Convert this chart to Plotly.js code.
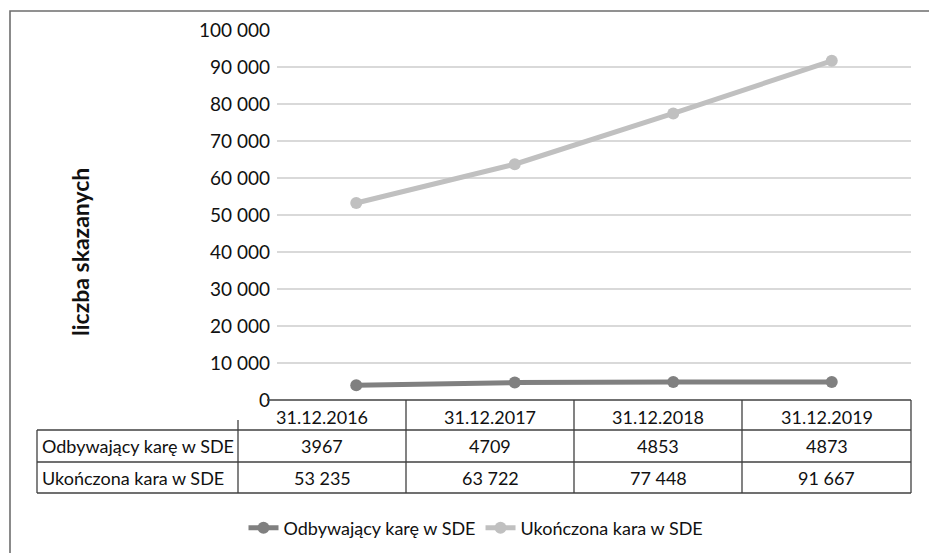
<!DOCTYPE html>
<html>
<head>
<meta charset="utf-8">
<script src="https://cdn.plot.ly/plotly-3.0.1.min.js"></script>
<style>html,body{margin:0;padding:0;background:#fff;}#chart{width:929px;height:553px;}</style>
</head>
<body>
<div id="chart"></div>
<script>
// ---- data ----
const categories = ["31.12.2016", "31.12.2017", "31.12.2018", "31.12.2019"];
const seriesNames = ["Odbywający karę w SDE", "Ukończona kara w SDE"];
const odbywajacy = [3967, 4709, 4853, 4873];
const ukonczona = [53235, 63722, 77448, 91667];
const yTickValues = [0, 10000, 20000, 30000, 40000, 50000, 60000, 70000, 80000, 90000, 100000];
const yTitle = "liczba skazanych";

// ---- layout helpers (pixel geometry) ----
const W = 929, H = 553;
const px = x => x / W;
const py = y => 1 - y / H;
const FONT = "Lato, 'Open Sans', sans-serif";

function fmt(v) {
  if (v < 10000) return String(v);
  return String(v).replace(/\B(?=(\d{3})+(?!\d))/g, " ");
}

const plotLeft = 277, plotRight = 911, plotTop = 30, plotBottom = 400;
const tableLeft = 37, labelRight = 238, tableRight = 911;
const colEdges = [238, 406, 574, 742, 911];
const rowEdges = [400, 430, 462, 493];
const lineCol = "#404040";

const traces = [
  {x: categories, y: odbywajacy, name: seriesNames[0], type: "scatter", mode: "lines+markers",
   line: {color: "#808080", width: 5}, marker: {color: "#808080", size: 12}},
  {x: categories, y: ukonczona, name: seriesNames[1], type: "scatter", mode: "lines+markers",
   line: {color: "#c0c0c0", width: 5}, marker: {color: "#c0c0c0", size: 12}}
];

const shapes = [];
// outer border (extends beyond the picture on right/bottom)
shapes.push({type: "rect", xref: "paper", yref: "paper", x0: px(10), x1: px(960), y0: py(11), y1: py(600),
  line: {color: "#6e6e6e", width: 1.6}});
// axis line / header top
shapes.push({type: "line", xref: "paper", yref: "paper", x0: px(267), x1: px(tableRight), y0: py(rowEdges[0]), y1: py(rowEdges[0]), line: {color: lineCol, width: 1.3}});
// row lines
for (let r = 1; r < rowEdges.length; r++) {
  shapes.push({type: "line", xref: "paper", yref: "paper", x0: px(tableLeft), x1: px(tableRight), y0: py(rowEdges[r]), y1: py(rowEdges[r]), line: {color: lineCol, width: 1.3}});
}
// table left border (label column)
shapes.push({type: "line", xref: "paper", yref: "paper", x0: px(tableLeft), x1: px(tableLeft), y0: py(rowEdges[1]), y1: py(rowEdges[3]), line: {color: lineCol, width: 1.3}});
// label/first column divider
shapes.push({type: "line", xref: "paper", yref: "paper", x0: px(labelRight), x1: px(labelRight), y0: py(420), y1: py(rowEdges[3]), line: {color: lineCol, width: 1.3}});
// column dividers
for (let c = 1; c < colEdges.length; c++) {
  shapes.push({type: "line", xref: "paper", yref: "paper", x0: px(colEdges[c]), x1: px(colEdges[c]), y0: py(rowEdges[0]), y1: py(rowEdges[3]), line: {color: lineCol, width: 1.3}});
}

const annotations = [];
const cellFont = {family: FONT, size: 18, color: "#111"};
const rowsData = [odbywajacy, ukonczona];
categories.forEach((cat, i) => {
  const cx = (colEdges[i] + colEdges[i + 1]) / 2;
  annotations.push({xref: "paper", yref: "paper", x: px(cx), y: py((rowEdges[0] + rowEdges[1]) / 2 + 2), text: cat,
    showarrow: false, xanchor: "center", yanchor: "middle", font: cellFont});
  rowsData.forEach((arr, r) => {
    annotations.push({xref: "paper", yref: "paper", x: px(cx), y: py((rowEdges[r + 1] + rowEdges[r + 2]) / 2), text: fmt(arr[i]),
      showarrow: false, xanchor: "center", yanchor: "middle", font: cellFont});
  });
});
seriesNames.forEach((n, r) => {
  annotations.push({xref: "paper", yref: "paper", x: px(tableLeft + 3), y: py((rowEdges[r + 1] + rowEdges[r + 2]) / 2), text: n,
    showarrow: false, xanchor: "left", yanchor: "middle", font: cellFont});
});
annotations.push({xref: "paper", yref: "paper", x: px(80), y: py(252), text: "<b>" + yTitle + "</b>", textangle: -90,
  showarrow: false, xanchor: "center", yanchor: "middle", font: {family: FONT, size: 23, color: "#111"}});

const layout = {
  width: W, height: H,
  margin: {l: 0, r: 0, t: 0, b: 0},
  paper_bgcolor: "#fff", plot_bgcolor: "#fff",
  separators: ", ",
  font: {family: FONT, color: "#111"},
  showlegend: true,
  legend: {orientation: "h", x: px(476), xanchor: "center", y: py(528), yanchor: "middle",
    font: {family: FONT, size: 18, color: "#111"}, itemwidth: 30, tracegroupgap: 0},
  xaxis: {domain: [px(plotLeft), px(plotRight)], type: "category", range: [-0.5, 3.5],
    showticklabels: false, showgrid: false, zeroline: false, showline: false, ticks: "", fixedrange: true},
  yaxis: {domain: [py(plotBottom), py(plotTop)], range: [0, 100000], tickvals: yTickValues, tickformat: ",d",
    showgrid: true, gridcolor: "#d9d9d9", gridwidth: 1.5, zeroline: false, showline: false, ticks: "",
    ticklabelstandoff: 6, tickfont: {family: FONT, size: 19, color: "#111"}, fixedrange: true},
  shapes: shapes,
  annotations: annotations
};

Plotly.newPlot("chart", traces, layout, {staticPlot: true, displayModeBar: false});
</script>
</body>
</html>
